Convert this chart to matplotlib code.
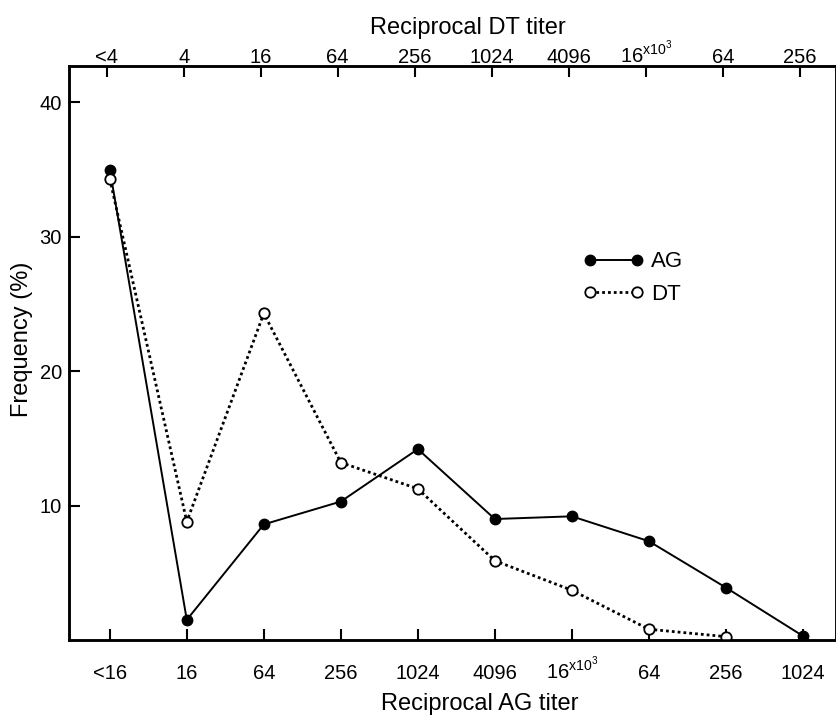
import numpy as np
import matplotlib as mpl
mpl.use('Agg')
mpl.rcParams['font.family'] = 'sans-serif'
mpl.rcParams['font.sans-serif'] = ['Liberation Sans', 'DejaVu Sans']
mpl.rcParams['mathtext.fontset'] = 'custom'
mpl.rcParams['mathtext.rm'] = 'Liberation Sans'
mpl.rcParams['mathtext.it'] = 'Liberation Sans'
import matplotlib.pyplot as plt
from matplotlib.lines import Line2D

# data
ag_labels = ['<16', '16', '64', '256', '1024', '4096', '16$^{\\rm x10^3}$', '64', '256', '1024']
dt_labels = ['<4', '4', '16', '64', '256', '1024', '4096', '16$^{\\rm x10^3}$', '64', '256']
ag_freq = [35.0, 1.5, 8.6, 10.3, 14.2, 9.0, 9.2, 7.35, 3.9, 0.3]
dt_freq = [34.3, 8.8, 24.3, 13.2, 11.25, 5.9, 3.7, 0.8, 0.25]
ag_x = np.arange(len(ag_freq))
dt_x = np.arange(len(dt_freq))

fs_tick = 14.5
fs_lab = 17

fig = plt.figure(figsize=(8.37, 7.15), dpi=100, facecolor='w')
ax = fig.add_axes([0.0824, 0.1049, 0.9164, 0.8028])

ax.plot(ag_x, ag_freq, color='black', lw=1.4, marker='o', ms=7.5,
        mfc='black', mec='black', zorder=3)
ax.plot(dt_x, dt_freq, color='black', lw=2.0, ls=(0, (1, 1.1)), marker='o', ms=7.5,
        mfc='white', mec='black', mew=1.3, zorder=4)

ax.set_xlim(-0.53, 9.43)
ax.set_ylim(0, 42.7)
ax.set_xticks(ag_x)
ax.set_xticklabels(ag_labels, fontsize=fs_tick, va='baseline')
ax.set_yticks([10, 20, 30, 40])
ax.set_yticklabels(['10', '20', '30', '40'], fontsize=fs_tick)
ax.tick_params(axis='x', direction='in', length=8, width=1.5, pad=28)
ax.tick_params(axis='y', direction='in', length=8, width=1.5, pad=5)
for s in ax.spines.values():
    s.set_linewidth(1.8)

ax.set_xlabel('Reciprocal AG titer', fontsize=fs_lab)
ax.xaxis.set_label_coords(0.535, -0.093)
ax.set_ylabel('Frequency (%)', fontsize=fs_lab)
ax.yaxis.set_label_coords(-0.047, 0.523)

# top axis: DT titer
ax2 = ax.twiny()
ax2.set_xlim(ax.get_xlim())
ax2.set_xticks(np.arange(len(dt_labels)) - 0.04)
ax2.set_xticklabels(dt_labels, fontsize=fs_tick, va='baseline')
ax2.tick_params(axis='x', direction='in', length=8, width=1.5, pad=2.5)
ax2.set_xlabel('Reciprocal DT titer', fontsize=fs_lab)
ax2.xaxis.set_label_coords(0.52, 1.055)
for s in ax2.spines.values():
    s.set_linewidth(1.8)

lag = Line2D([], [], color='black', lw=1.4, marker='o', ms=7.5, mfc='black', label='AG')
ldt = Line2D([], [], color='black', lw=2.0, ls=(0, (1, 1.1)), marker='o', ms=7.5,
             mfc='white', mew=1.3, label='DT')
ax.legend(handles=[lag, ldt], frameon=False, loc='upper left', bbox_to_anchor=(0.67, 0.677),
          fontsize=16, numpoints=2, handlelength=2.75, handletextpad=0.3,
          labelspacing=0.5, borderpad=0.0, borderaxespad=0.0)

plt.savefig('out.png', dpi=100)
